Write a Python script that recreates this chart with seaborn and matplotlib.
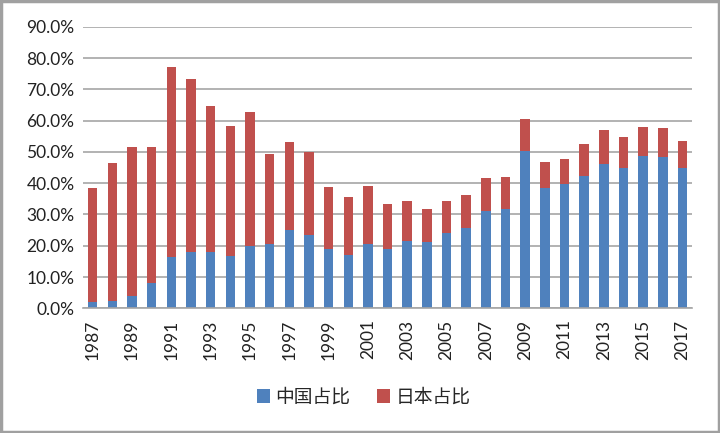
import matplotlib
matplotlib.use("Agg")
import matplotlib.pyplot as plt
import seaborn as sns
import pandas as pd
from matplotlib.patches import Patch, Rectangle
from matplotlib.ticker import PercentFormatter

years = list(range(1987, 2018))
china = [1.9, 2.3, 4.0, 8.0, 16.3, 18.0, 17.9, 16.7, 20.0, 20.5, 25.0, 23.3, 18.8, 17.1, 20.5,
         19.0, 21.4, 21.2, 24.0, 25.7, 31.0, 31.6, 50.3, 38.3, 39.8, 42.4, 46.2, 44.9, 48.8, 48.4, 44.9]
total = [38.5, 46.5, 51.4, 51.4, 77.2, 73.2, 64.6, 58.2, 62.7, 49.3, 53.2, 49.9, 38.9, 35.5, 39.1,
         33.3, 34.3, 31.8, 34.3, 36.1, 41.6, 41.9, 60.6, 46.7, 47.7, 52.6, 56.9, 54.8, 57.8, 57.5, 53.5]
japan = [round(t - c, 1) for t, c in zip(total, china)]
series_names = ["中国占比", "日本占比"]

df = pd.DataFrame({"year": [str(y) for y in years], "china": china, "japan": japan})
df["stack_top"] = df["china"] + df["japan"]

blue = "#4F81BD"
red = "#C0504D"

sns.set_theme(style="white")
plt.rcParams["font.family"] = ["Lato", "DejaVu Sans"]

fig = plt.figure(figsize=(7.2, 4.33), dpi=100)
ax = fig.add_axes([0.115, 0.288, 0.8465, 0.6503])

sns.barplot(data=df, x="year", y="stack_top", color=red, width=0.48, saturation=1,
            linewidth=0, edgecolor="none", ax=ax)
sns.barplot(data=df, x="year", y="china", color=blue, width=0.48, saturation=1,
            linewidth=0, edgecolor="none", ax=ax)

ax.set_xlim(-0.5, len(years) - 0.5)
ax.set_ylim(0, 90)
ax.set_yticks(range(0, 91, 10))
ax.yaxis.set_major_formatter(PercentFormatter(decimals=1))
ax.grid(axis="y", color="#A6A6A6", linewidth=1.2)
ax.set_axisbelow(True)
ticks = list(range(0, len(years), 2))
ax.set_xticks(ticks)
ax.set_xticklabels([str(years[i]) for i in ticks], rotation=90)
ax.set_xlabel("")
ax.set_ylabel("")
for s in ["top", "right", "left"]:
    ax.spines[s].set_visible(False)
ax.spines["bottom"].set_color("#A6A6A6")
ax.spines["bottom"].set_linewidth(1.2)
ax.tick_params(axis="both", length=0, labelsize=12.5, colors="#222222", pad=6)
ax.tick_params(axis="x", pad=8)

handles = [Patch(facecolor=blue, edgecolor="none"), Patch(facecolor=red, edgecolor="none")]
fig.legend(handles, series_names, loc="center", bbox_to_anchor=(0.505, 0.083), ncol=2,
           frameon=False, handlelength=0.7, handleheight=0.7, handletextpad=0.3,
           columnspacing=1.4, prop={"family": ["Noto Sans CJK SC", "DejaVu Sans"], "size": 13.5})

fig.patches.append(Rectangle((0.0015, 0.002), 0.997, 0.995, transform=fig.transFigure,
                             fill=False, edgecolor="#A0A0A0", linewidth=2.5))

fig.savefig("out.png", dpi=100)
